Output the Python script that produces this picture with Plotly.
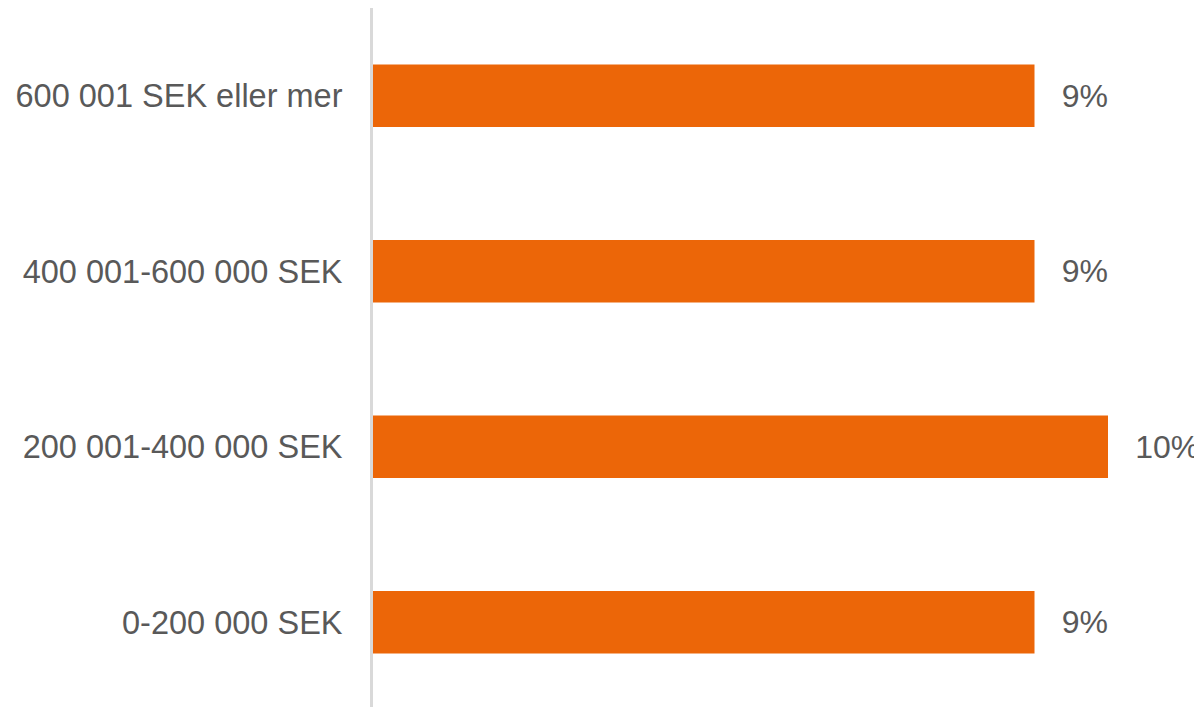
import plotly.graph_objects as go

categories = ['0-200 000 SEK', '200 001-400 000 SEK', '400 001-600 000 SEK', '600 001 SEK eller mer']
values = [9, 10, 9, 9]

fig = go.Figure(go.Bar(
    x=values, y=categories, orientation='h',
    marker_color='#EC6608', marker_line_width=0,
    text=[f'\u00a0\u00a0\u2009{v}%' for v in values],
    textposition='outside', cliponaxis=False,
    textfont=dict(size=32, color='#595959', family='Liberation Sans, Arial'),
    hoverinfo='skip'
))

# page body adds an 8px offset, so margins are trimmed by that amount
fig.update_layout(
    width=1202, height=707,
    margin=dict(l=365, r=16, t=0, b=5),
    plot_bgcolor='white', paper_bgcolor='white',
    bargap=0.645, showlegend=False,
    font=dict(family='Liberation Sans, Arial', size=32, color='#595959'),
)
fig.update_xaxes(range=[0, 11.17], visible=False, showgrid=False, zeroline=False,
                 automargin=False)
fig.update_yaxes(showline=True, linecolor='#D9D9D9', linewidth=3,
                 showgrid=False, ticks='', ticklabelstandoff=21, automargin=False,
                 tickfont=dict(size=32.5, color='#595959'))

fig.write_html("out.html")
